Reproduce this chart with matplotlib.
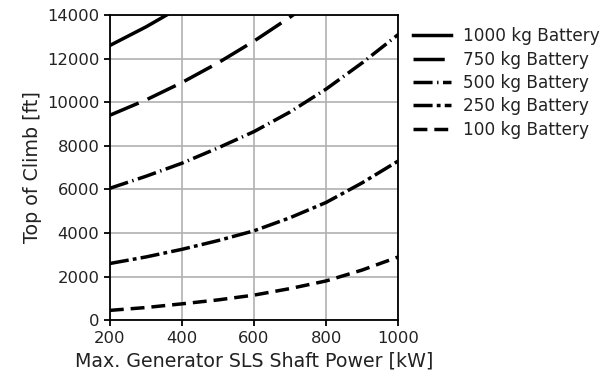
import matplotlib
matplotlib.use('Agg')
import matplotlib.pyplot as plt

# generator power [kW]
power = [200, 300, 400, 500, 600, 700, 800, 900, 1000]

# top of climb [ft] per battery mass
toc_1000 = [12600, 13450, 14400, 15400, 16500, 17700, 19000, 20400, 21900]
toc_750 = [9400, 10100, 10900, 11800, 12800, 13900, 15100, 16400, 17800]
toc_500 = [6050, 6600, 7200, 7900, 8650, 9550, 10600, 11800, 13100]
toc_250 = [2600, 2900, 3250, 3650, 4100, 4700, 5400, 6300, 7300]
toc_100 = [450, 580, 750, 930, 1150, 1450, 1800, 2300, 2900]

labels = ['1000 kg Battery', '750 kg Battery', '500 kg Battery',
          '250 kg Battery', '100 kg Battery']
styles = ['-', (0, (9, 2.8)), (0, (5.5, 1.3, 0.4, 1.3)),
          (0, (5.5, 1.2, 1.1, 1.2)), (0, (4, 2))]

fig = plt.figure(figsize=(6.07, 3.83), dpi=100)
ax = fig.add_axes([0.181, 0.164, 0.475, 0.797])

for vals, lab, ls in zip([toc_1000, toc_750, toc_500, toc_250, toc_100], labels, styles):
    ax.plot(power, vals, color='black', lw=2.5, linestyle=ls, label=lab)

ax.set_xlim(200, 1000)
ax.set_ylim(0, 14000)
ax.set_xticks([200, 400, 600, 800, 1000])
ax.set_yticks(range(0, 14001, 2000))
ax.grid(True, color='#b0b0b0', lw=1.2)
ax.set_axisbelow(True)
for s in ax.spines.values():
    s.set_linewidth(1.3)
ax.tick_params(labelsize=11.8, width=1.3, length=4, labelcolor='#222222')
ax.set_xlabel('Max. Generator SLS Shaft Power [kW]', fontsize=13.7, color='#222222')
ax.set_ylabel('Top of Climb [ft]', fontsize=13.7, color='#222222')
ax.legend(loc='upper left', bbox_to_anchor=(1.0, 1.01), frameon=False,
          fontsize=12.2, handlelength=2.2, handletextpad=0.75, labelspacing=0.32,
          labelcolor='#222222')

fig.savefig('out.png', dpi=100)
